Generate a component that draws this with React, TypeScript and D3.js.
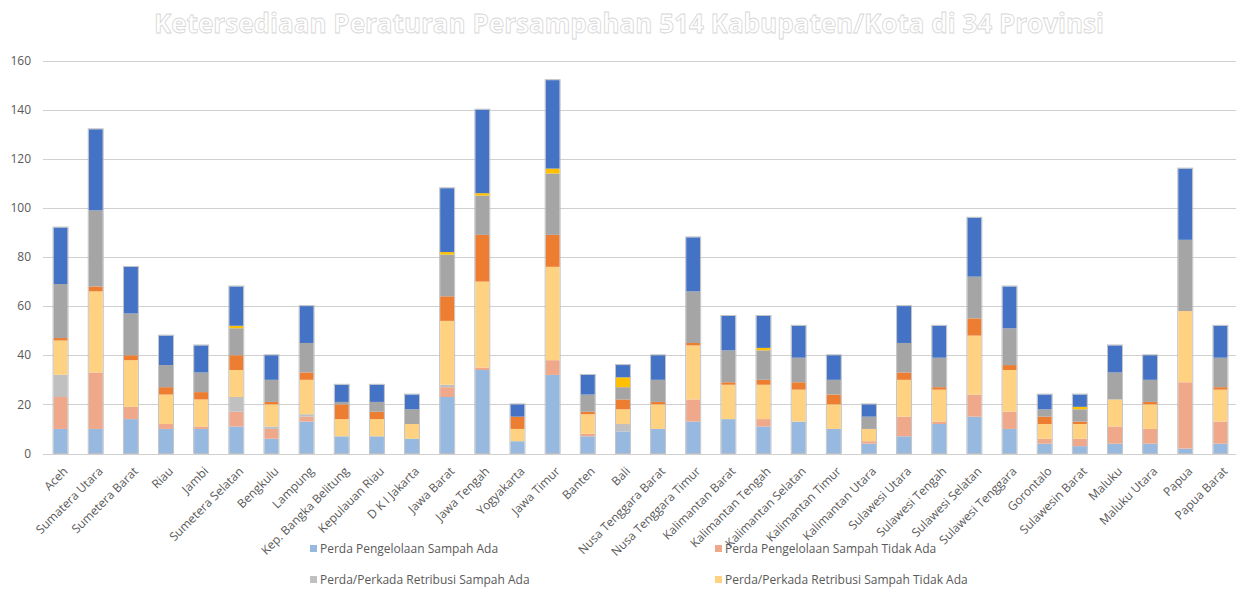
import React from "react";
import * as d3 from "d3";

// Provinces (x axis categories)
const provinces = [
  "Aceh", "Sumatera Utara", "Sumetera Barat", "Riau", "Jambi", "Sumetera Selatan",
  "Bengkulu", "Lampung", "Kep. Bangka Belitung", "Kepulauan Riau", "D K I Jakarta",
  "Jawa Barat", "Jawa Tengah", "Yogyakarta", "Jawa Timur", "Banten", "Bali",
  "Nusa Tenggara Barat", "Nusa Tenggara Timur", "Kalimantan Barat", "Kalimantan Tengah",
  "Kalimantan Selatan", "Kalimantan Timur", "Kalimantan Utara", "Sulawesi Utara",
  "Sulawesi Tengah", "Sulawesi Selatan", "Sulawesi Tenggara", "Gorontalo",
  "Sulawesin Barat", "Maluku", "Maluku Utara", "Papua", "Papua Barat",
];

// Stacked series, bottom to top
const pengelolaanAda =      [10, 10, 14, 10, 10, 11, 6, 13, 7, 7, 6, 23, 34, 5, 32, 7, 9, 10, 13, 14, 11, 13, 10, 4, 7, 12, 15, 10, 4, 3, 4, 4, 2, 4];
const pengelolaanTidakAda = [13, 23, 5, 2, 1, 6, 4, 2, 0, 0, 0, 4, 1, 0, 6, 1, 0, 0, 9, 0, 3, 0, 0, 1, 8, 1, 9, 7, 2, 3, 7, 6, 27, 9];
const retribusiAda =        [9, 0, 0, 0, 0, 6, 1, 1, 0, 0, 0, 1, 0, 0, 0, 0, 3, 0, 0, 0, 0, 0, 0, 0, 0, 0, 0, 0, 0, 0, 0, 0, 0, 0];
const retribusiTidakAda =   [14, 33, 19, 12, 11, 11, 9, 14, 7, 7, 6, 26, 35, 5, 38, 8, 6, 10, 22, 14, 14, 13, 10, 5, 15, 13, 24, 17, 6, 6, 11, 10, 29, 13];
const seri5 =               [1, 2, 2, 3, 3, 6, 1, 3, 6, 3, 0, 10, 19, 5, 13, 1, 4, 1, 1, 1, 2, 3, 4, 0, 3, 1, 7, 2, 3, 1, 0, 1, 0, 1];
const seri6 =               [22, 31, 17, 9, 8, 11, 9, 12, 1, 4, 6, 17, 16, 0, 25, 7, 5, 9, 21, 13, 12, 10, 6, 5, 12, 12, 17, 15, 3, 5, 11, 9, 29, 12];
const seri7 =               [0, 0, 0, 0, 0, 1, 0, 0, 0, 0, 0, 1, 1, 0, 2, 0, 4, 0, 0, 0, 1, 0, 0, 0, 0, 0, 0, 0, 0, 1, 0, 0, 0, 0];
const seri8 =               [23, 33, 19, 12, 11, 16, 10, 15, 7, 7, 6, 26, 34, 5, 36, 8, 5, 10, 22, 14, 13, 13, 10, 5, 15, 13, 24, 17, 6, 5, 11, 10, 29, 13];

const seriesNames = [
  "Perda Pengelolaan Sampah Ada",
  "Perda Pengelolaan Sampah Tidak Ada",
  "Perda/Perkada Retribusi Sampah Ada",
  "Perda/Perkada Retribusi Sampah Tidak Ada",
  "Seri 5", "Seri 6", "Seri 7", "Seri 8",
];
const seriesValues = [
  pengelolaanAda, pengelolaanTidakAda, retribusiAda, retribusiTidakAda,
  seri5, seri6, seri7, seri8,
];
const seriesColors = [
  "#97B9E0", "#F0A88A", "#C0C0C0", "#FFD282",
  "#ED7D31", "#A5A5A5", "#FFC000", "#4472C4",
];

const yTicks = [0, 20, 40, 60, 80, 100, 120, 140, 160];

const W = 1236;
const H = 589;
const FONT = "'Open Sans', 'Noto Sans', sans-serif";
const TEXT = "#595959";

export default function App() {
  const keys = seriesNames.map((_, i) => `s${i}`);
  const rows = provinces.map((p, j) => {
    const r: Record<string, any> = { prov: p };
    keys.forEach((k, i) => (r[k] = seriesValues[i][j]));
    return r;
  });
  const stacked = d3.stack().keys(keys)(rows as any);

  const x = d3.scaleBand<string>()
    .domain(provinces)
    .range([43, 1238])
    .paddingInner(0.6)
    .paddingOuter(0.3);
  const y = d3.scaleLinear().domain([0, 160]).range([453.5, 60.5]);

  const bw = x.bandwidth();

  return (
    <svg width={W} height={H} style={{ position: "absolute", left: 0, top: 0, background: "#fff" }}
      fontFamily={FONT}>
      {/* title */}
      <text x={629} y={33} textAnchor="middle" fontSize={26} fontWeight={700}
        fill="#ffffff" stroke="#d6d6d6" strokeWidth={0.8}
        textLength={950} lengthAdjust="spacingAndGlyphs">
        Ketersediaan Peraturan Persampahan 514 Kabupaten/Kota di 34 Provinsi
      </text>

      {/* gridlines and y labels */}
      {yTicks.map((t) => (
        <g key={t}>
          <line x1={43} x2={1236} y1={Math.round(y(t)) + 0.5} y2={Math.round(y(t)) + 0.5}
            stroke="#d0d0d0" strokeWidth={1.2} />
          <text x={31} y={y(t)} dy="0.35em" textAnchor="end" fontSize={12} fill={TEXT}>{t}</text>
        </g>
      ))}

      {/* stacked bars */}
      {stacked.map((s, i) => (
        <g key={s.key} fill={seriesColors[i]}>
          {s.map((d, j) => {
            const h = y(d[0]) - y(d[1]);
            if (h <= 0) return null;
            return <rect key={j} x={x(provinces[j])} y={y(d[1])} width={bw} height={h} />;
          })}
        </g>
      ))}
      {/* bar outline */}
      {provinces.map((p, j) => {
        const top = stacked[stacked.length - 1][j][1];
        return (
          <rect key={p} x={(x(p) as number) - 0.5} y={y(top) - 0.5} width={bw + 1}
            height={y(0) - y(top) + 0.5} fill="none" stroke="#b8b8b8" strokeWidth={0.8} />
        );
      })}

      {/* x labels */}
      {provinces.map((p) => {
        const cx = (x(p) as number) + bw / 2;
        return (
          <text key={p} transform={`translate(${cx + 5},${469}) rotate(-45)`}
            textAnchor="end" dy="0.35em" fontSize={12} fill={TEXT}>{p}</text>
        );
      })}

      {/* legend */}
      {seriesNames.slice(0, 4).map((n, i) => {
        const lx = i % 2 === 0 ? 310 : 715;
        const ly = i < 2 ? 549 : 580;
        return (
          <g key={n}>
            <rect x={lx} y={ly - 4} width={7} height={7} fill={seriesColors[i]} />
            <text x={lx + 10} y={ly} dy="0.35em" fontSize={12} fill={TEXT}>{n}</text>
          </g>
        );
      })}
    </svg>
  );
}
